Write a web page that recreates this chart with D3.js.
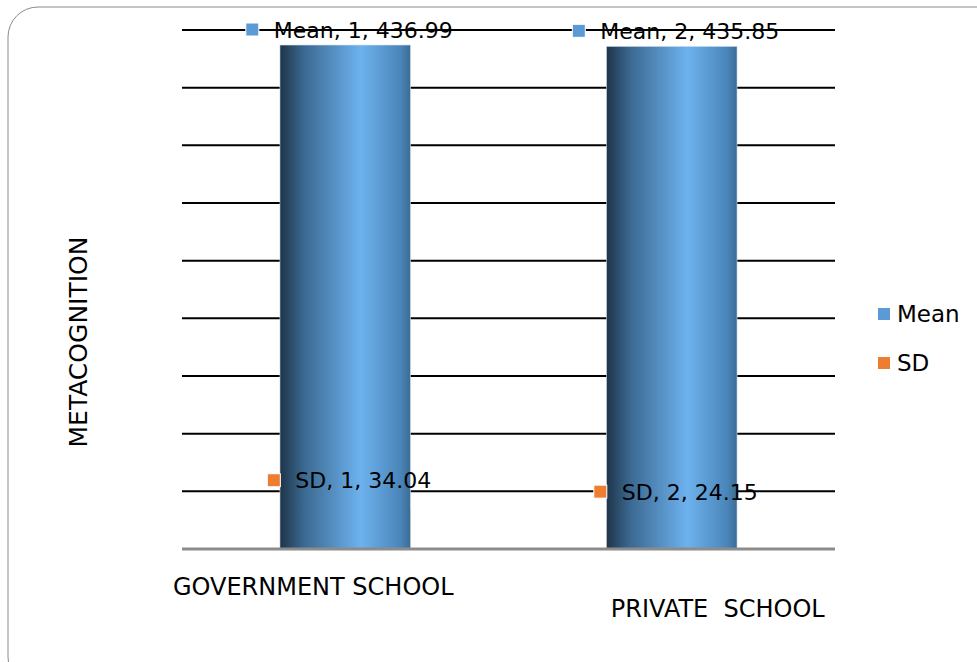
<!DOCTYPE html>
<html lang="en">
<head>
<meta charset="UTF-8">
<title>Metacognition</title>
<style>
  body { margin: 0; background: #fff; }
  text { font-family: "DejaVu Sans", "Open Sans", sans-serif; fill: #000; }
</style>
</head>
<body>
<div class="canvas"></div>
<script src="https://cdnjs.cloudflare.com/ajax/libs/d3/7.8.5/d3.min.js"></script>
<script>
// data
const categories = ['GOVERNMENT SCHOOL', 'PRIVATE  SCHOOL'];
const seriesNames = ['Mean', 'SD'];
const meanValues = [436.99, 435.85];
const sdValues = [34.04, 24.15];
const yTicks = [0, 50, 100, 150, 200, 250, 300, 350, 400, 450];
const colors = { Mean: '#5b9bd5', SD: '#ed7d31' };

const width = 977, height = 662;
const plot = { left: 182, right: 835, top: 30, bottom: 549 };

const svg = d3.select('.canvas').append('svg')
  .attr('width', width)
  .attr('height', height);

// outer rounded frame (runs off the right and bottom)
svg.append('rect')
  .attr('x', 8).attr('y', 7)
  .attr('width', 1000).attr('height', 680)
  .attr('rx', 30).attr('ry', 30)
  .attr('fill', 'none')
  .attr('stroke', '#8a8a8a')
  .attr('stroke-width', 1);

const x = d3.scaleBand()
  .domain(categories)
  .range([plot.left, plot.right])
  .paddingInner(0)
  .paddingOuter(0);

const y = d3.scaleLinear()
  .domain([0, 450])
  .range([plot.bottom, plot.top]);

// gradient for the cylinder-ish bars
const defs = svg.append('defs');
const grad = defs.append('linearGradient')
  .attr('id', 'barGrad')
  .attr('x1', '0%').attr('x2', '100%').attr('y1', '0%').attr('y2', '0%');
grad.append('stop').attr('offset', '0%').attr('stop-color', '#1e3449');
grad.append('stop').attr('offset', '18%').attr('stop-color', '#3b6890');
grad.append('stop').attr('offset', '62%').attr('stop-color', '#6db2ee');
grad.append('stop').attr('offset', '92%').attr('stop-color', '#4b86ba');
grad.append('stop').attr('offset', '100%').attr('stop-color', '#3a6c96');

// gridlines
svg.append('g')
  .selectAll('line')
  .data(yTicks.filter(d => d > 0))
  .join('line')
  .attr('x1', plot.left).attr('x2', plot.right)
  .attr('y1', d => y(d)).attr('y2', d => y(d))
  .attr('stroke', '#000')
  .attr('stroke-width', 2);

const barW = x.bandwidth() * 0.4;
const barX = d => x(d) + (x.bandwidth() - barW) / 2;

// SD bars sit behind the Mean bars (100% overlap)
svg.append('g')
  .selectAll('rect')
  .data(categories)
  .join('rect')
  .attr('x', d => barX(d))
  .attr('width', barW)
  .attr('y', (d, i) => y(sdValues[i]))
  .attr('height', (d, i) => y(0) - y(sdValues[i]))
  .attr('fill', colors.SD);

// Mean bars
svg.append('g')
  .selectAll('rect')
  .data(categories)
  .join('rect')
  .attr('x', d => barX(d))
  .attr('width', barW)
  .attr('y', (d, i) => y(meanValues[i]))
  .attr('height', (d, i) => y(0) - y(meanValues[i]))
  .attr('fill', 'url(#barGrad)')
  .attr('stroke', '#d6e4f0')
  .attr('stroke-width', 0.6);

// baseline
svg.append('line')
  .attr('x1', plot.left).attr('x2', plot.right)
  .attr('y1', y(0)).attr('y2', y(0))
  .attr('stroke', '#8c8c8c')
  .attr('stroke-width', 3);

// data labels: marker + "series, n, value"
function addLabels(name, values, offset) {
  const g = svg.append('g');
  categories.forEach((c, i) => {
    const cx = x(c) + x.bandwidth() / 2 + 4;
    const cy = y(values[i]) - offset;
    const lab = g.append('g');
    const t = lab.append('text')
      .attr('y', cy)
      .attr('dy', '0.35em')
      .style('font-size', '22px')
      .text(name + ', ' + (i + 1) + ', ' + values[i].toFixed(2));
    const tw = t.node().getComputedTextLength();
    const total = 13 + 15 + tw;
    const left = cx - total / 2;
    lab.insert('rect', 'text')
      .attr('x', left).attr('y', cy - 7)
      .attr('width', 13).attr('height', 13)
      .attr('fill', colors[name])
      .attr('stroke', '#fff')
      .attr('stroke-width', 1);
    t.attr('x', left + 28);
  });
}
addLabels('Mean', meanValues, 15);
addLabels('SD', sdValues, 29);

// category labels (text boxes sit a bit off the bars)
const catOffset = [{ dx: -32, y: 587 }, { dx: 46, y: 609 }];
svg.append('g')
  .selectAll('text')
  .data(categories)
  .join('text')
  .attr('x', (d, i) => x(d) + x.bandwidth() / 2 + catOffset[i].dx)
  .attr('y', (d, i) => catOffset[i].y)
  .attr('dy', '0.35em')
  .attr('text-anchor', 'middle')
  .style('font-size', '24px')
  .style('white-space', 'pre')
  .text(d => d);

// y axis title
svg.append('text')
  .attr('transform', 'translate(78, 342) rotate(-90)')
  .attr('text-anchor', 'middle')
  .attr('dy', '0.35em')
  .style('font-size', '25px')
  .text('METACOGNITION');

// legend
const legend = svg.append('g').attr('transform', 'translate(878, 314)');
seriesNames.forEach((s, i) => {
  const row = legend.append('g').attr('transform', `translate(0, ${i * 49})`);
  row.append('rect')
    .attr('x', 0).attr('y', -6)
    .attr('width', 12).attr('height', 12)
    .attr('fill', colors[s]);
  row.append('text')
    .attr('x', 19).attr('y', 0)
    .attr('dy', '0.35em')
    .style('font-size', '23px')
    .text(s);
});
</script>
</body>
</html>
